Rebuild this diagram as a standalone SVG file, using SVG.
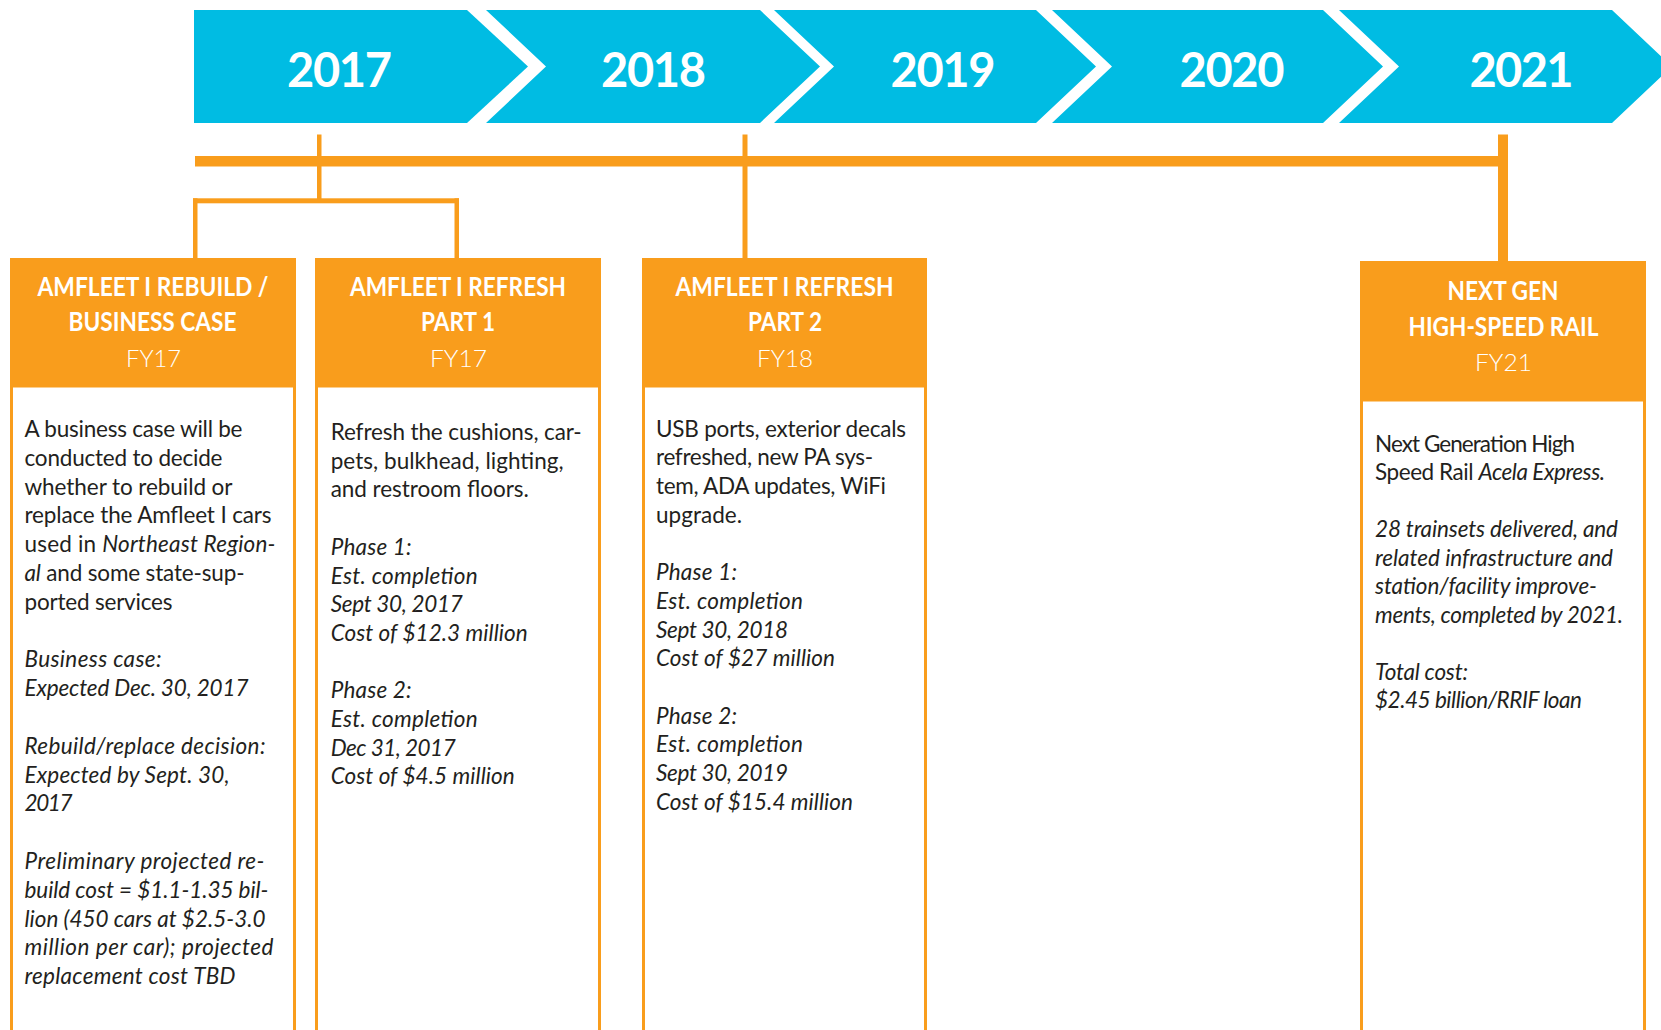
<svg xmlns="http://www.w3.org/2000/svg" width="1661" height="1030" viewBox="0 0 1661 1030">
  <style>
    .band { fill: #00BCE3; }
    .yr { font-family: Lato, "Open Sans", sans-serif; font-weight: 700; font-size: 47px; fill: #ffffff; text-anchor: middle; }
    .line { fill: #F99D1C; }
    .hdr { fill: #F99D1C; }
    .body { fill: #ffffff; stroke: #F99D1C; stroke-width: 3; }
    .hd { font-family: Lato, "Open Sans", sans-serif; font-weight: 700; font-size: 26px; fill: #ffffff; text-anchor: middle; }
    .fy { font-family: Lato, "Open Sans", sans-serif; font-weight: 300; font-size: 24px; fill: #ffffff; text-anchor: middle; }
    .bd { font-family: Lato, "Open Sans", sans-serif; font-size: 22.5px; fill: #231F20; }
    .it { font-style: italic; }
  </style>

  <!-- year chevrons -->
  <g id="years">
    <g id="y2017">
      <polygon class="band" points="194,10 467,10 528,66.5 467,123 194,123"/>
      <text class="yr" x="339.5" y="87" textLength="105">2017</text>
    </g>
    <g id="y2018">
      <polygon class="band" points="486,10 760,10 820,66.5 760,123 486,123 546,66.5"/>
      <text class="yr" x="653.5" y="87" textLength="105">2018</text>
    </g>
    <g id="y2019">
      <polygon class="band" points="774,10 1036,10 1096,66.5 1036,123 774,123 834,66.5"/>
      <text class="yr" x="943" y="87" textLength="105">2019</text>
    </g>
    <g id="y2020">
      <polygon class="band" points="1052,10 1323,10 1383,66.5 1323,123 1052,123 1112,66.5"/>
      <text class="yr" x="1232" y="87" textLength="105">2020</text>
    </g>
    <g id="y2021">
      <polygon class="band" points="1339,10 1612,10 1672,66.5 1612,123 1339,123 1399,66.5"/>
      <text class="yr" x="1521.5" y="87" textLength="104">2021</text>
    </g>
  </g>

  <!-- timeline bar and drop lines -->
  <g id="connectors">
    <rect class="line" x="195" y="156" width="1313" height="10.5"/>
    <rect class="line" x="317" y="134.5" width="4.5" height="66"/>
    <rect class="line" x="193" y="198.3" width="266" height="5"/>
    <rect class="line" x="193" y="198.3" width="4.5" height="60"/>
    <rect class="line" x="454.5" y="198.3" width="4.5" height="60"/>
    <rect class="line" x="742.5" y="134.5" width="5" height="124"/>
    <rect class="line" x="1498" y="134.5" width="10" height="127"/>
  </g>

  <!-- milestone cards -->
  <g id="card-rebuild">
    <rect class="body" x="11.5" y="386" width="283" height="660"/>
    <rect class="hdr" x="10" y="258" width="286" height="129"/>
    <text class="hd" x="153" y="296" textLength="231" lengthAdjust="spacingAndGlyphs">AMFLEET I REBUILD /</text>
    <text class="hd" x="152.5" y="331" textLength="168" lengthAdjust="spacingAndGlyphs">BUSINESS CASE</text>
    <text class="fy" x="153.5" y="366.5" textLength="55" lengthAdjust="spacingAndGlyphs">FY17</text>
    <text class="bd" x="24.5" y="437" textLength="218">A business case will be</text>
    <text class="bd" x="24.5" y="465.8" textLength="198">conducted to decide</text>
    <text class="bd" x="24.5" y="494.6" textLength="208">whether to rebuild or</text>
    <text class="bd" x="24.5" y="523.4" textLength="247">replace the Amfleet I cars</text>
    <text class="bd" x="24.5" y="552.2" textLength="251">used in <tspan class="it">Northeast Region-</tspan></text>
    <text class="bd" x="24.5" y="581" textLength="220"><tspan class="it">al</tspan> and some state-sup-</text>
    <text class="bd" x="24.5" y="609.8" textLength="148">ported services</text>
    <text class="bd it" x="24.5" y="667.4" textLength="137">Business case:</text>
    <text class="bd it" x="24.5" y="696.2" textLength="224">Expected Dec. 30, 2017</text>
    <text class="bd it" x="24.5" y="753.8" textLength="241">Rebuild/replace decision:</text>
    <text class="bd it" x="24.5" y="782.6" textLength="205">Expected by Sept. 30,</text>
    <text class="bd it" x="24.5" y="811.4" textLength="48">2017</text>
    <text class="bd it" x="24.5" y="869" textLength="240">Preliminary projected re-</text>
    <text class="bd it" x="24.5" y="897.8" textLength="244">build cost = $1.1-1.35 bil-</text>
    <text class="bd it" x="24.5" y="926.6" textLength="241">lion (450 cars at $2.5-3.0</text>
    <text class="bd it" x="24.5" y="955.4" textLength="249">million per car); projected</text>
    <text class="bd it" x="24.5" y="984.2" textLength="211">replacement cost TBD</text>
  </g>

  <g id="card-refresh1">
    <rect class="body" x="316.5" y="386" width="283" height="660"/>
    <rect class="hdr" x="315" y="258" width="286" height="129"/>
    <text class="hd" x="458" y="296" textLength="216" lengthAdjust="spacingAndGlyphs">AMFLEET I REFRESH</text>
    <text class="hd" x="458" y="331" textLength="74" lengthAdjust="spacingAndGlyphs">PART 1</text>
    <text class="fy" x="458.5" y="367" textLength="57" lengthAdjust="spacingAndGlyphs">FY17</text>
    <text class="bd" x="330.7" y="440" textLength="251">Refresh the cushions, car-</text>
    <text class="bd" x="330.7" y="468.7" textLength="233">pets, bulkhead, lighting,</text>
    <text class="bd" x="330.7" y="497.4" textLength="198">and restroom floors.</text>
    <text class="bd it" x="330.7" y="554.8" textLength="81">Phase 1:</text>
    <text class="bd it" x="330.7" y="583.5" textLength="147">Est. completion</text>
    <text class="bd it" x="330.7" y="612.2" textLength="132">Sept 30, 2017</text>
    <text class="bd it" x="330.7" y="640.9" textLength="197">Cost of $12.3 million</text>
    <text class="bd it" x="330.7" y="698.3" textLength="81">Phase 2:</text>
    <text class="bd it" x="330.7" y="727" textLength="147">Est. completion</text>
    <text class="bd it" x="330.7" y="755.7" textLength="125">Dec 31, 2017</text>
    <text class="bd it" x="330.7" y="784.4" textLength="184">Cost of $4.5 million</text>
  </g>

  <g id="card-refresh2">
    <rect class="body" x="643.5" y="386" width="282" height="660"/>
    <rect class="hdr" x="642" y="258" width="285" height="129"/>
    <text class="hd" x="784.5" y="296" textLength="218" lengthAdjust="spacingAndGlyphs">AMFLEET I REFRESH</text>
    <text class="hd" x="785" y="331" textLength="74" lengthAdjust="spacingAndGlyphs">PART 2</text>
    <text class="fy" x="785" y="367" textLength="56" lengthAdjust="spacingAndGlyphs">FY18</text>
    <text class="bd" x="656" y="436.7" textLength="250">USB ports, exterior decals</text>
    <text class="bd" x="656" y="465.4" textLength="217">refreshed, new PA sys-</text>
    <text class="bd" x="656" y="494.1" textLength="230">tem, ADA updates, WiFi</text>
    <text class="bd" x="656" y="522.8" textLength="86">upgrade.</text>
    <text class="bd it" x="656" y="580.2" textLength="81">Phase 1:</text>
    <text class="bd it" x="656" y="608.9" textLength="147">Est. completion</text>
    <text class="bd it" x="656" y="637.6" textLength="132">Sept 30, 2018</text>
    <text class="bd it" x="656" y="666.3" textLength="179">Cost of $27 million</text>
    <text class="bd it" x="656" y="723.7" textLength="81">Phase 2:</text>
    <text class="bd it" x="656" y="752.4" textLength="147">Est. completion</text>
    <text class="bd it" x="656" y="781.1" textLength="132">Sept 30, 2019</text>
    <text class="bd it" x="656" y="809.8" textLength="197">Cost of $15.4 million</text>
  </g>

  <g id="card-nextgen">
    <rect class="body" x="1361.5" y="400" width="283" height="646"/>
    <rect class="hdr" x="1360" y="261" width="286" height="140"/>
    <text class="hd" x="1503" y="300" textLength="111" lengthAdjust="spacingAndGlyphs">NEXT GEN</text>
    <text class="hd" x="1503.5" y="336" textLength="190" lengthAdjust="spacingAndGlyphs">HIGH-SPEED RAIL</text>
    <text class="fy" x="1503.5" y="371" textLength="57" lengthAdjust="spacingAndGlyphs">FY21</text>
    <text class="bd" x="1375" y="451.5" textLength="200">Next Generation High</text>
    <text class="bd" x="1375" y="480" textLength="230">Speed Rail <tspan class="it">Acela Express.</tspan></text>
    <text class="bd it" x="1375" y="537" textLength="243">28 trainsets delivered, and</text>
    <text class="bd it" x="1375" y="565.5" textLength="238">related infrastructure and</text>
    <text class="bd it" x="1375" y="594" textLength="222">station/facility improve-</text>
    <text class="bd it" x="1375" y="622.5" textLength="248">ments, completed by 2021.</text>
    <text class="bd it" x="1375" y="679.5" textLength="93">Total cost:</text>
    <text class="bd it" x="1375" y="708" textLength="207">$2.45 billion/RRIF loan</text>
  </g>
</svg>
